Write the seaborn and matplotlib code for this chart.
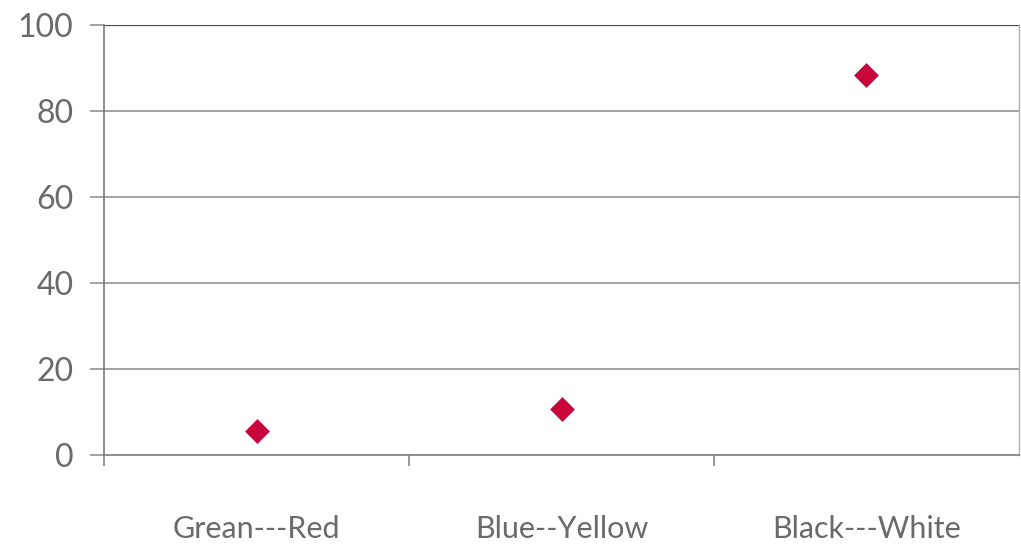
import matplotlib
matplotlib.use("Agg")
import matplotlib.pyplot as plt
import seaborn as sns
import pandas as pd

# values
categories = ["Grean---Red", "Blue--Yellow", "Black---White"]
values = [5.6, 10.7, 88.4]
y_ticks = [0, 20, 40, 60, 80, 100]

df = pd.DataFrame({"pair": categories, "value": values})

sns.set_style("white")
plt.rcParams["font.family"] = ["Lato", "DejaVu Sans"]

fig = plt.figure(figsize=(10.21, 5.45), dpi=100)
ax = fig.add_axes([0.102, 0.165, 0.896, 0.789])

sns.scatterplot(data=df, x="pair", y="value", marker="D", s=160,
                color="#C8063C", edgecolor="#C8063C", linewidth=0, ax=ax, zorder=3)

ax.set_xlim(-0.5, len(categories) - 0.5)
ax.set_ylim(0, 100)
ax.set_yticks(y_ticks)
ax.set_xticks(range(len(categories)))
ax.set_xticklabels(categories)
ax.set_xticks([i - 0.5 for i in range(len(categories))], minor=True)
ax.set_xlabel("")
ax.set_ylabel("")

for y in y_ticks[1:-1]:
    ax.axhline(y, color="#8a8a8a", linewidth=1.1, zorder=1)
ax.axhline(100, color="#4a4a4a", linewidth=1.6, zorder=1)

for side in ["left", "bottom"]:
    ax.spines[side].set_color("#7a7a7a")
    ax.spines[side].set_linewidth(1.2)
ax.spines["right"].set_color("#b0b0b0")
ax.spines["right"].set_linewidth(1.0)
ax.spines["top"].set_visible(False)

ax.tick_params(axis="x", which="major", length=0, pad=43,
               labelsize=22, labelcolor="#6a6a6a")
ax.tick_params(axis="x", which="minor", length=8, width=1.1,
               color="#7a7a7a", direction="out")
ax.tick_params(axis="y", length=10, width=1.1, color="#8a8a8a",
               labelsize=23, labelcolor="#6a6a6a", pad=12)
ax.tick_params(axis="both", which="both", bottom=True, left=True)

fig.savefig("out.png", dpi=100, facecolor="white")
